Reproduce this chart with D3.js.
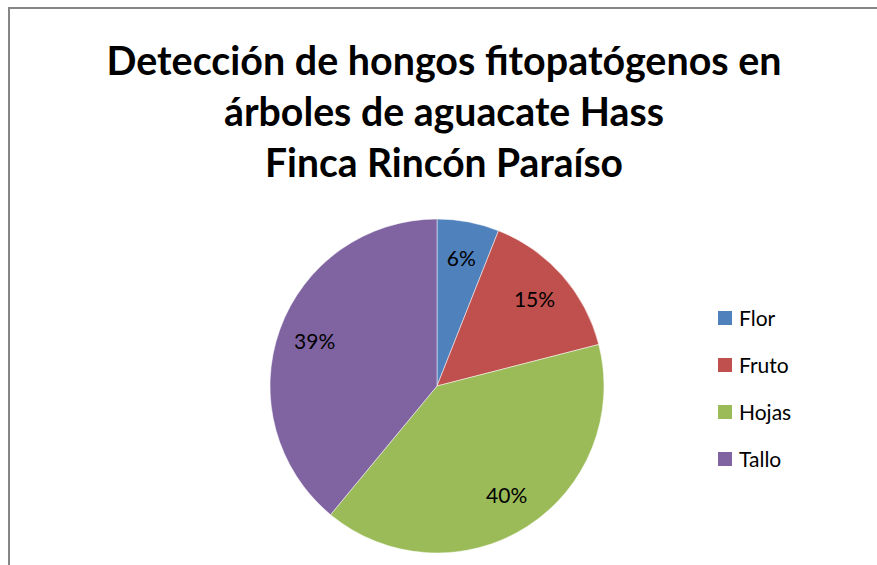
<html>
<head>
<meta charset="utf-8">
<script src="https://d3js.org/d3.v7.min.js"></script>
<style>
body{margin:0;background:#fff;}
svg{display:block;font-family:Lato,"Open Sans",sans-serif;}
</style>
</head>
<body></body>
<script>
const width = 877;
const height = 565;

const titleLines = ['Detección de hongos fitopatógenos en', 'árboles de aguacate Hass', 'Finca Rincón Paraíso'];
const titleWidths = [675, 440, 358];
const categories = ['Flor', 'Fruto', 'Hojas', 'Tallo'];
const values = [6, 15, 40, 39];
const colors = ['#4F81BD', '#C0504D', '#9BBB59', '#8064A2'];

const svg = d3.select('body').append('svg')
    .attr('width', width)
    .attr('height', height);

// chart frame (runs off the right and bottom edges)
svg.append('rect')
    .attr('x', 9).attr('y', 8)
    .attr('width', 900).attr('height', 600)
    .attr('fill', 'none')
    .attr('stroke', '#868686')
    .attr('stroke-width', 2);

svg.selectAll('text.title')
    .data(titleLines)
    .enter()
  .append('text')
    .attr('class', 'title')
    .attr('x', 444)
    .attr('y', (d, i) => 75 + i * 51)
    .attr('text-anchor', 'middle')
    .attr('font-size', 40)
    .attr('font-weight', 'bold')
    .attr('textLength', (d, i) => titleWidths[i])
    .attr('lengthAdjust', 'spacingAndGlyphs')
    .text(d => d);

const cx = 437, cy = 386, r = 167;
const data = categories.map((c, i) => ({name: c, value: values[i], color: colors[i]}));
const total = d3.sum(values);

const pie = d3.pie().sort(null).value(d => d.value);
const arc = d3.arc().innerRadius(0).outerRadius(r);
const labelArc = d3.arc().innerRadius(130).outerRadius(130);

const g = svg.append('g').attr('transform', `translate(${cx},${cy})`);

g.selectAll('path')
    .data(pie(data))
    .enter()
  .append('path')
    .attr('d', arc)
    .attr('fill', d => d.data.color)
    .attr('stroke', '#fff')
    .attr('stroke-width', 0.5);

g.selectAll('text')
    .data(pie(data))
    .enter()
  .append('text')
    .attr('transform', d => `translate(${labelArc.centroid(d)})`)
    .attr('text-anchor', 'middle')
    .attr('dy', '0.35em')
    .attr('font-size', 21)
    .attr('fill', '#000')
    .text(d => Math.round(d.data.value / total * 100) + '%');

const legend = svg.append('g').attr('transform', 'translate(718,318)');
const item = legend.selectAll('g')
    .data(data)
    .enter()
  .append('g')
    .attr('transform', (d, i) => `translate(0,${i * 47})`);

item.append('rect')
    .attr('x', 0).attr('y', -7)
    .attr('width', 14).attr('height', 14)
    .attr('fill', d => d.color);

item.append('text')
    .attr('x', 21)
    .attr('dy', '0.36em')
    .attr('font-size', 21)
    .text(d => d.name);
</script>
</html>
